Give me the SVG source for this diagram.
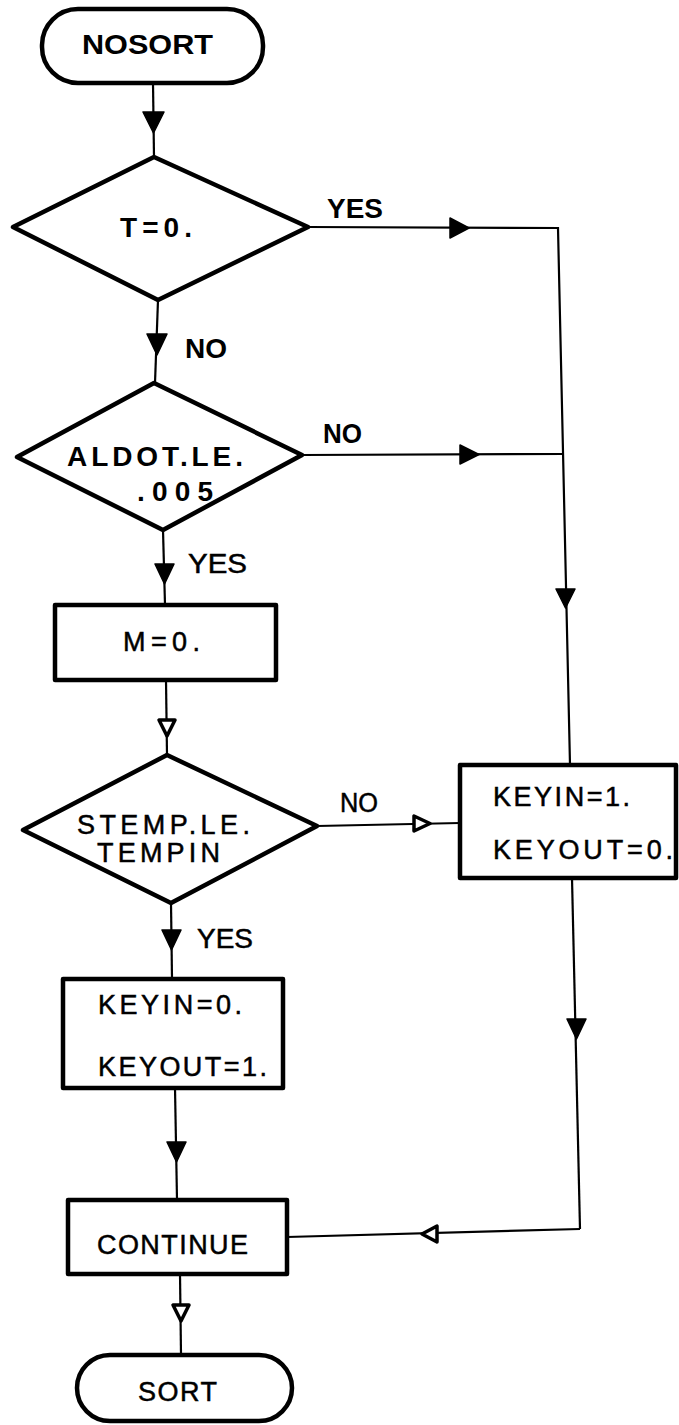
<svg xmlns="http://www.w3.org/2000/svg" width="679" height="1425" viewBox="0 0 679 1425">
<style>
.shape{fill:#fff;stroke:#000;stroke-width:4.5;stroke-linejoin:round}
.ln{fill:none;stroke:#000;stroke-width:2.2}
.ah{fill:#000;stroke:#000;stroke-width:1.5;stroke-linejoin:round}
.ahh{fill:#fff;stroke:#000;stroke-width:3.5;stroke-linejoin:round}
text{font-family:"Liberation Sans",Arial,sans-serif;fill:#000}
.b{font-weight:bold}
.t{font-size:28px}
.l{font-size:27px;stroke:#000;stroke-width:0.5}
</style>
<rect width="679" height="1425" fill="#fff"/>
<g id="connectors">
<line class="ln" x1="153" y1="83" x2="154" y2="157"/>
<polygon class="ah" points="143,112 164,112 153.5,133"/>
<polyline class="ln" points="308,227 558,228 570,765"/>
<polygon class="ah" points="450,218 450,238 469,228"/>
<polygon class="ah" points="556,589 575,589 565.5,608"/>
<line class="ln" x1="158" y1="300" x2="155" y2="383"/>
<polygon class="ah" points="147,334 167,334 157,355"/>
<line class="ln" x1="302" y1="455" x2="563" y2="454"/>
<polygon class="ah" points="460,445 460,464 479,454.5"/>
<line class="ln" x1="163" y1="530" x2="165" y2="605"/>
<polygon class="ah" points="155,564 174,564 164.5,584"/>
<line class="ln" x1="166" y1="680" x2="167" y2="755"/>
<polygon class="ahh" points="159,720 175,720 167,736"/>
<line class="ln" x1="317" y1="826" x2="460" y2="823"/>
<polygon class="ahh" points="414,816 414,831 430,823.5"/>
<line class="ln" x1="572" y1="878" x2="580" y2="1229"/>
<polyline class="ln" points="580,1229 287,1237"/>
<polygon class="ah" points="567,1019 586,1019 576.5,1039"/>
<polygon class="ahh" points="437,1226 437,1242 422,1234"/>
<line class="ln" x1="171" y1="903" x2="172" y2="979"/>
<polygon class="ah" points="162,930 181,930 171.5,950"/>
<line class="ln" x1="175" y1="1088" x2="177" y2="1200"/>
<polygon class="ah" points="167,1142 186,1142 176.5,1162"/>
<line class="ln" x1="180" y1="1274" x2="181" y2="1355"/>
<polygon class="ahh" points="173,1305 189,1305 181,1321"/>
<text class="b t" x="327" y="218" textLength="56" lengthAdjust="spacingAndGlyphs">YES</text>
<text class="b t" x="185" y="358" textLength="42" lengthAdjust="spacingAndGlyphs">NO</text>
<text class="b t" x="323" y="443" textLength="39" lengthAdjust="spacingAndGlyphs">NO</text>
<text class="l" x="188" y="573" textLength="59" lengthAdjust="spacingAndGlyphs">YES</text>
<text class="l" x="340" y="812" textLength="38" lengthAdjust="spacingAndGlyphs">NO</text>
<text class="l" x="197" y="948" textLength="56" lengthAdjust="spacingAndGlyphs">YES</text>
</g>
<g id="nosort">
<rect class="shape" x="42" y="9" width="221" height="74" rx="36"/>
<text class="b" font-size="28" x="82" y="54" textLength="131" lengthAdjust="spacingAndGlyphs">NOSORT</text>
</g>
<g id="d1">
<polygon class="shape" points="154,157 308,227 158,300 13,227"/>
<text class="b t" x="120" y="237" textLength="72" lengthAdjust="spacing">T=0.</text>
</g>
<g id="d2">
<polygon class="shape" points="154,383 302,455 163,530 17,457"/>
<text class="b t" x="67" y="466" textLength="176" lengthAdjust="spacing">ALDOT.LE.</text>
<text class="b t" x="137" y="501" textLength="76" lengthAdjust="spacing">.005</text>
</g>
<g id="m0">
<rect class="shape" x="55" y="605" width="221" height="75"/>
<text class="l" x="123" y="651" textLength="77" lengthAdjust="spacing">M=0.</text>
</g>
<g id="d3">
<polygon class="shape" points="167,755 317,826 171,903 23,830"/>
<text class="l" x="77" y="834" textLength="173" lengthAdjust="spacing">STEMP.LE.</text>
<text class="l" x="97" y="862" textLength="123" lengthAdjust="spacing">TEMPIN</text>
</g>
<g id="keyin1">
<rect class="shape" x="460" y="765" width="216" height="113"/>
<text class="l" x="493" y="806" textLength="137" lengthAdjust="spacing">KEYIN=1.</text>
<text class="l" x="493" y="859" textLength="180" lengthAdjust="spacing">KEYOUT=0.</text>
</g>
<g id="keyin0">
<rect class="shape" x="63" y="979" width="220" height="109"/>
<text class="l" x="98" y="1014" textLength="144" lengthAdjust="spacing">KEYIN=0.</text>
<text class="l" x="98" y="1076" textLength="169" lengthAdjust="spacing">KEYOUT=1.</text>
</g>
<g id="continue">
<rect class="shape" x="68" y="1200" width="219" height="74"/>
<text class="l" x="97" y="1254" textLength="151" lengthAdjust="spacing">CONTINUE</text>
</g>
<g id="sort">
<rect class="shape" x="77" y="1355" width="215" height="66" rx="33"/>
<text class="l" x="138" y="1401" textLength="79" lengthAdjust="spacing">SORT</text>
</g>
</svg>
